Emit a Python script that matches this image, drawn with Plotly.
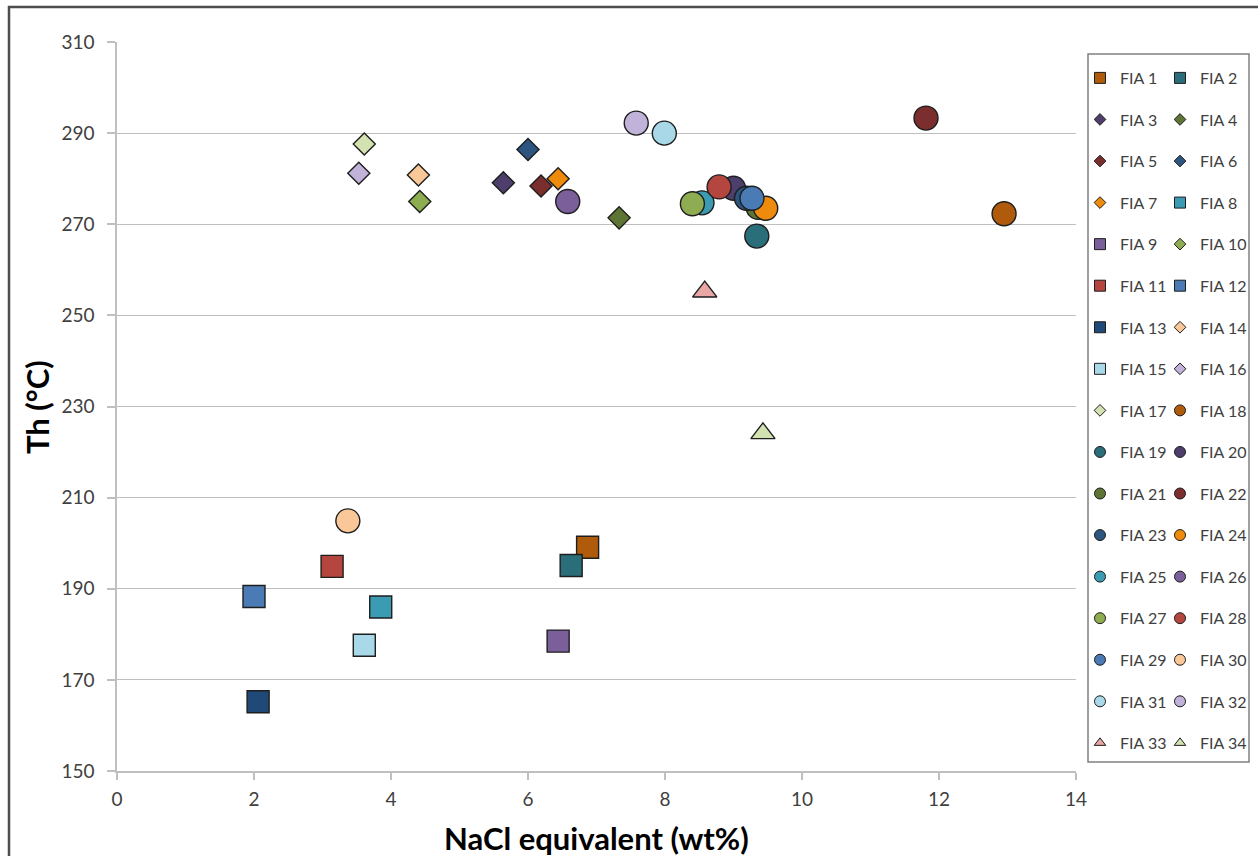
import plotly.graph_objects as go

# ---------------- data ----------------
names = [f"FIA {i}" for i in range(1, 35)]
nacl = [6.87, 6.63, 5.64, 7.33, 6.19, 6.00, 6.44, 3.85, 6.44, 4.42,
        3.14, 2.00, 2.06, 4.40, 3.61, 3.53, 3.61, 12.95, 9.34, 9.00,
        9.36, 11.81, 9.19, 9.47, 8.54, 6.58, 8.40, 8.79, 9.27, 3.37,
        7.99, 7.58, 8.58, 9.43]
th = [199.1, 195.1, 279.1, 271.4, 278.4, 286.4, 280.0, 186.0, 178.5, 275.0,
      194.9, 188.3, 165.2, 280.8, 177.6, 281.2, 287.6, 272.3, 267.4, 277.9,
      273.7, 293.3, 275.7, 273.5, 274.7, 275.0, 274.5, 278.2, 275.7, 204.9,
      290.0, 292.2, 255.2, 224.1]
symbols = ["square", "square", "diamond", "diamond", "diamond", "diamond", "diamond",
           "square", "square", "diamond", "square", "square", "square", "diamond",
           "square", "diamond", "diamond"] + ["circle"] * 15 + ["triangle-up"] * 2
colors = ["#B05A0C", "#2A6E7A", "#4E3E6C", "#5E7434", "#7A2E2D", "#2C5580", "#EE8A0C",
          "#3B9BB3", "#7B5F9B", "#8EAC52", "#B4463F", "#4A7BB4", "#1F4A78", "#FAC799",
          "#A9D9E9", "#C0B2D9", "#D2E2B0", "#B05A0C", "#2A6E7A", "#4E3E6C", "#5E7434",
          "#7A2E2D", "#2C5580", "#EE8A0C", "#3B9BB3", "#7B5F9B", "#8EAC52", "#B4463F",
          "#4A7BB4", "#FAC799", "#A9D9E9", "#C0B2D9", "#E8A6A4", "#D2E2B0"]
x_ticks = [0, 2, 4, 6, 8, 10, 12, 14]
y_ticks = [150, 170, 190, 210, 230, 250, 270, 290, 310]

plot_size = {"square": 22, "diamond": 17, "circle": 24, "triangle-up": 21}
legend_size = {"square": 11, "diamond": 9, "circle": 11, "triangle-up": 10}

FONT = "Lato"
TXT = "#404040"

fig = go.Figure()

# data marks
for n, x, y, s, c in zip(names, nacl, th, symbols, colors):
    fig.add_trace(go.Scatter(
        x=[x], y=[y], mode="markers", name=n, showlegend=False,
        marker=dict(symbol=s, size=plot_size[s], color=c,
                    line=dict(color="#1E1E1E", width=1.4)),
    ))

# legend entries (two columns: odd / even)
for i, (n, s, c) in enumerate(zip(names, symbols, colors)):
    fig.add_trace(go.Scatter(
        x=[None], y=[None], mode="markers", name=n, legendgroup=n,
        legend="legend" if i % 2 == 0 else "legend2",
        marker=dict(symbol=s, size=legend_size[s], color=c,
                    line=dict(color="#1E1E1E", width=1)),
    ))

L, R, T, B = 117, 182, 42, 85
W, H = 1258, 856
pw, ph = W - L - R, H - T - B


def px_x(p):
    return (p - L) / pw


def px_y(p):
    return (H - B - p) / ph


legend_common = dict(
    font=dict(family=FONT, size=16, color=TXT),
    bgcolor="rgba(0,0,0,0)", borderwidth=0,
    xanchor="left", yanchor="top", tracegroupgap=17.76,
    itemsizing="trace", traceorder="grouped",
)

fig.update_layout(
    width=W, height=H,
    margin=dict(l=L, r=R, t=T, b=B, autoexpand=False),
    paper_bgcolor="white", plot_bgcolor="white",
    font=dict(family=FONT, color=TXT),
    legend=dict(x=px_x(1080), y=px_y(61), **legend_common),
    legend2=dict(x=px_x(1160), y=px_y(61), **legend_common),
    xaxis=dict(
        range=[0, 14], tickvals=x_ticks, showgrid=False, zeroline=False,
        showline=True, linecolor="#BFBFBF", linewidth=1.5,
        ticks="outside", ticklen=7, tickcolor="#BFBFBF", tickwidth=1.5,
        tickfont=dict(family=FONT, size=19, color=TXT), ticklabelstandoff=3,
    ),
    yaxis=dict(
        range=[150, 310], tickvals=y_ticks, showgrid=True, gridcolor="#BFBFBF",
        gridwidth=1.4, zeroline=False,
        showline=True, linecolor="#BFBFBF", linewidth=1.5,
        ticks="outside", ticklen=8, tickcolor="#BFBFBF", tickwidth=1.5,
        tickfont=dict(family=FONT, size=19, color=TXT), ticklabelstandoff=9,
    ),
    shapes=[
        # outer chart frame
        dict(type="rect", xref="paper", yref="paper",
             x0=px_x(9), x1=px_x(1300), y0=px_y(900), y1=px_y(7),
             line=dict(color="#4D4D4D", width=2.5)),
        # legend box
        dict(type="rect", xref="paper", yref="paper",
             x0=px_x(1088), x1=px_x(1249), y0=px_y(762), y1=px_y(54),
             line=dict(color="#808080", width=1.5)),
    ],
    annotations=[
        dict(text="<b>NaCl equivalent (wt%)</b>", xref="paper", yref="paper",
             x=0.5, y=px_y(838), xanchor="center", yanchor="middle",
             showarrow=False, font=dict(family=FONT, size=31, color="black")),
        dict(text="<b>Th (°C)</b>", xref="paper", yref="paper",
             x=px_x(37), y=px_y(407), xanchor="center", yanchor="middle",
             textangle=-90, showarrow=False,
             font=dict(family=FONT, size=31, color="black")),
    ],
)

fig.write_html("out.html")
